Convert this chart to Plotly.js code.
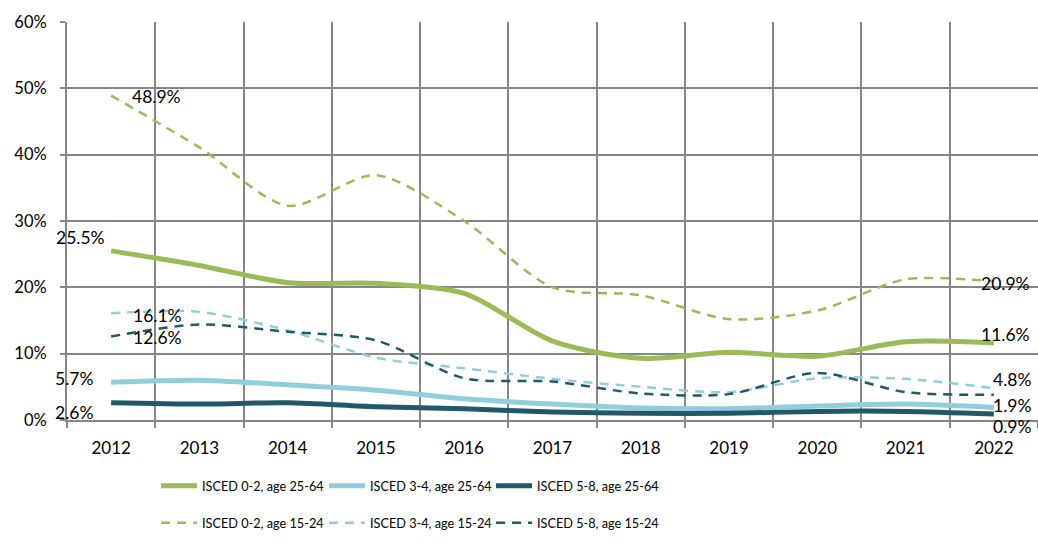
<!DOCTYPE html>
<html>
<head>
<meta charset="utf-8">
<script src="https://cdn.plot.ly/plotly-3.0.1.min.js"></script>
<style>html,body{margin:0;padding:0;background:#fff;}#chart{width:1038px;height:552px;}</style>
</head>
<body>
<div id="chart"></div>
<script>
const years = ['2012','2013','2014','2015','2016','2017','2018','2019','2020','2021','2022'];
const isced02_2564 = [25.5, 23.3, 20.7, 20.6, 19.1, 11.9, 9.3, 10.2, 9.6, 11.8, 11.6];
const isced34_2564 = [5.7, 6.0, 5.3, 4.5, 3.2, 2.4, 1.8, 1.7, 2.1, 2.4, 1.9];
const isced58_2564 = [2.6, 2.4, 2.6, 2.0, 1.7, 1.2, 1.0, 1.0, 1.3, 1.3, 0.9];
const isced02_1524 = [48.9, 41.1, 32.3, 36.9, 30.0, 20.0, 18.8, 15.2, 16.5, 21.2, 20.9];
const isced34_1524 = [16.1, 16.3, 13.5, 9.4, 7.8, 6.2, 5.0, 4.2, 6.3, 6.2, 4.8];
const isced58_1524 = [12.6, 14.4, 13.3, 12.0, 6.3, 5.8, 4.0, 3.9, 7.1, 4.2, 3.8];
const seriesNames = ['ISCED 0-2, age 25-64','ISCED 3-4, age 25-64','ISCED 5-8, age 25-64',
                     'ISCED 0-2, age 15-24','ISCED 3-4, age 15-24','ISCED 5-8, age 15-24'];

const GREEN = '#9BBB59', LBLUE = '#92CDDC', DTEAL = '#215968', GRID = '#868686';
const FONT = "Lato, 'Open Sans', sans-serif";

function solid(y, name, color, lg) {
  return {x: years, y: y, name: name, type: 'scatter', mode: 'lines', legend: lg,
          line: {color: color, width: 5, shape: 'spline', smoothing: 0.8}};
}
function dashed(y, name, color, lg) {
  return {x: years, y: y, name: name, type: 'scatter', mode: 'lines', legend: lg,
          line: {color: color, width: 2.5, dash: '9px,7px', shape: 'spline', smoothing: 0.8}};
}
const data = [
  solid(isced02_2564, seriesNames[0], GREEN, 'legend'),
  solid(isced34_2564, seriesNames[1], LBLUE, 'legend2'),
  solid(isced58_2564, seriesNames[2], DTEAL, 'legend3'),
  dashed(isced02_1524, seriesNames[3], GREEN, 'legend4'),
  dashed(isced34_1524, seriesNames[4], LBLUE, 'legend5'),
  dashed(isced58_1524, seriesNames[5], DTEAL, 'legend6')
];

// category index positions (0 = first year, last = final year)
const firstIdx = 0, lastIdx = years.length - 1;
function lab(x, y, xanchor, xshift, yshift) {
  return {x: x, y: y, xref: 'x', yref: 'y', text: y.toFixed(1) + '%', showarrow: false,
          xanchor: xanchor, yanchor: 'middle', xshift: xshift, yshift: yshift,
          font: {family: FONT, size: 17.5, color: '#000'}};
}
const annotations = [
  lab(firstIdx, isced02_1524[firstIdx], 'left', 19, -1),
  lab(firstIdx, isced02_2564[firstIdx], 'right', -4, 13),
  lab(firstIdx, isced34_1524[firstIdx], 'left', 20, -2),
  lab(firstIdx, isced58_1524[firstIdx], 'left', 20, -1),
  lab(firstIdx, isced34_2564[firstIdx], 'right', -16, 4),
  lab(firstIdx, isced58_2564[firstIdx], 'right', -16, -10),
  lab(lastIdx, isced02_1524[lastIdx], 'left', -15, -2),
  lab(lastIdx, isced02_2564[lastIdx], 'left', -15, 9),
  lab(lastIdx, isced34_1524[lastIdx], 'left', -3, 9),
  lab(lastIdx, isced34_2564[lastIdx], 'left', -3, 2),
  lab(lastIdx, isced58_2564[lastIdx], 'left', -3, -12)
];

function leg(x, y) {
  return {orientation: 'h', x: x, xanchor: 'left', y: y, yanchor: 'middle',
    itemwidth: 36, font: {family: FONT, size: 12.7, color: '#000'},
    bgcolor: 'rgba(0,0,0,0)'};
}
const legX = [0.0917, 0.2647, 0.4367];
const legY = [-0.166, -0.259];

const layout = {
  width: 1038, height: 552,
  margin: {l: 67, r: 0, t: 22, b: 132},
  paper_bgcolor: '#fff', plot_bgcolor: '#fff',
  font: {family: FONT, size: 16, color: '#000'},
  xaxis: {type: 'category', range: [-0.5, 10.5], tickson: 'boundaries',
          showgrid: true, gridcolor: GRID, gridwidth: 2,
          ticks: 'outside', ticklen: 6, tickwidth: 2, tickcolor: GRID,
          showline: true, linecolor: GRID, linewidth: 2, zeroline: false,
          tickfont: {family: FONT, size: 17, color: '#000'}, ticklabelstandoff: 12},
  yaxis: {range: [0, 60], dtick: 10, ticksuffix: '%',
          showgrid: true, gridcolor: GRID, gridwidth: 2,
          ticks: 'outside', ticklen: 5, tickwidth: 2, tickcolor: GRID,
          showline: true, linecolor: GRID, linewidth: 2, zeroline: false,
          tickfont: {family: FONT, size: 16.5, color: '#000'}, ticklabelstandoff: 10},
  showlegend: true,
  legend: leg(legX[0], legY[0]),
  legend2: leg(legX[1], legY[0]),
  legend3: leg(legX[2], legY[0]),
  legend4: leg(legX[0], legY[1]),
  legend5: leg(legX[1], legY[1]),
  legend6: leg(legX[2], legY[1]),
  annotations: annotations
};

Plotly.newPlot('chart', data, layout, {displayModeBar: false, staticPlot: true});
</script>
</body>
</html>
